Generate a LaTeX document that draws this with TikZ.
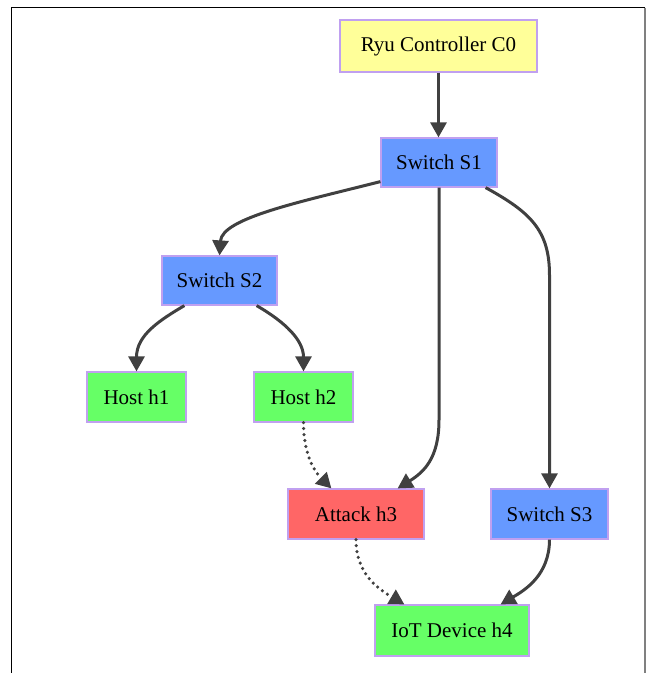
\documentclass[tikz,border=0pt]{standalone}
\usepackage{fontspec}
\setmainfont{Liberation Serif}
\usetikzlibrary{arrows.meta}
\definecolor{cyel}{HTML}{FFFF99}
\definecolor{cblue}{HTML}{6699FF}
\definecolor{cgreen}{HTML}{66FF66}
\definecolor{cred}{HTML}{FF6666}
\definecolor{cbord}{HTML}{C0A0F0}
\definecolor{cedge}{HTML}{404040}
\tikzset{
  box/.style={draw=cbord, line width=1.2pt, inner sep=0pt, minimum height=50pt,
    font=\fontsize{21}{25}\selectfont, text=black},
  link/.style={draw=cedge, line width=3pt, -{Triangle[length=15pt,width=16pt]}},
  dotlink/.style={link, line width=3.5pt, dash pattern=on 0pt off 6pt, line cap=round},
}
\begin{document}
\begin{tikzpicture}[x=1pt,y=-1pt]
\useasboundingbox (0,0) rectangle (647,673);
% frame
\draw[black, line width=1.5pt] (11.5,673) -- (11.5,7.5) -- (645,7.5);
\draw[gray, line width=1.5pt] (645,7.5) -- (645,673);
% nodes
\node[box, fill=cyel, minimum width=197pt, minimum height=52pt] (c0) at (438.5,46) {Ryu Controller C0};
\node[box, fill=cblue, minimum width=116pt, minimum height=49pt] (s1) at (439,162.5) {Switch S1};
\node[box, fill=cblue, minimum width=115pt, minimum height=49pt] (s2) at (219.5,280.5) {Switch S2};
\node[box, fill=cgreen, minimum width=99pt] (h1) at (136.5,397) {Host h1};
\node[box, fill=cgreen, minimum width=99pt] (h2) at (303.5,397) {Host h2};
\node[box, fill=cred, minimum width=136pt] (h3) at (356,514) {Attack h3};
\node[box, fill=cblue, minimum width=117pt] (s3) at (549.5,514) {Switch S3};
\node[box, fill=cgreen, minimum width=154pt, minimum height=51pt] (h4) at (452,630.5) {IoT Device h4};
% edges
\draw[link] (c0.south) -- (c0.south |- s1.north);
\draw[link] ([yshift=6pt]s1.south west) .. controls (300,202) and (222,218) .. (s2.north);
\draw[link] (s1.south) -- (439,420) .. controls (439,458) and (424,472) .. ([xshift=-27pt]h3.north east);
\draw[link] ([xshift=-12pt]s1.south east) .. controls (530,212) and (549.5,230) .. (549.5,275) -- (s3.north);
\draw[link] ([xshift=23pt]s2.south west) .. controls (160,320) and (136.5,335) .. (h1.north);
\draw[link] ([xshift=-21pt]s2.south east) .. controls (285,322) and (303.5,340) .. (h2.north);
\draw[dotlink] (h2.south) .. controls (303.5,455) and (315,472) .. ([xshift=44pt]h3.north west);
\draw[dotlink] (h3.south) .. controls (356,575) and (380,590) .. ([xshift=30pt]h4.north west);
\draw[link] (s3.south) .. controls (549.5,575) and (525,590) .. ([xshift=-29pt]h4.north east);
\end{tikzpicture}
\end{document}
